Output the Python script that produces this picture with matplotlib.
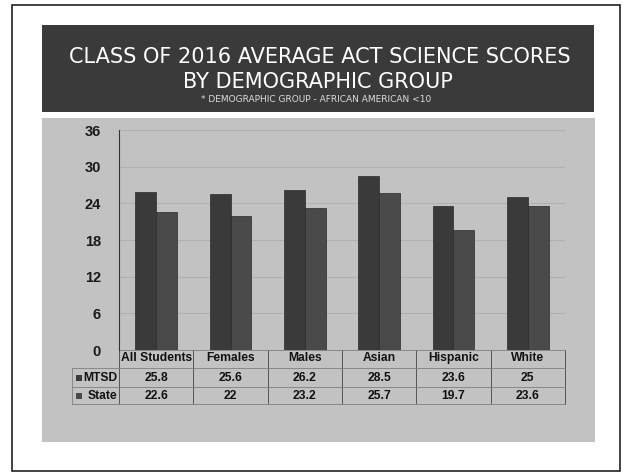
import matplotlib
matplotlib.use("Agg")
import matplotlib.pyplot as plt
from matplotlib.patches import Rectangle
from matplotlib.lines import Line2D
import matplotlib.transforms as mtransforms
import numpy as np

categories = ["All Students", "Females", "Males", "Asian", "Hispanic", "White"]
mtsd = [25.8, 25.6, 26.2, 28.5, 23.6, 25]
state = [22.6, 22, 23.2, 25.7, 19.7, 23.6]
mtsd_labels = ["25.8", "25.6", "26.2", "28.5", "23.6", "25"]
state_labels = ["22.6", "22", "23.2", "25.7", "19.7", "23.6"]
series_names = ["MTSD", "State"]
yticks = [0, 6, 12, 18, 24, 30, 36]
title1 = "CLASS OF 2016 AVERAGE ACT SCIENCE SCORES"
title2 = "BY DEMOGRAPHIC GROUP"
subtitle = "* DEMOGRAPHIC GROUP - AFRICAN AMERICAN <10"

FONT = ["Liberation Sans", "DejaVu Sans"]

W, H = 623, 474
fig = plt.figure(figsize=(W / 100, H / 100), dpi=100)
fig.patch.set_facecolor("white")

def fx(px):
    return px / W

def fy(py):
    return 1 - py / H

# outer border
fig.patches.append(Rectangle((fx(12), fy(471)), fx(620) - fx(12), fy(5) - fy(471),
                             transform=fig.transFigure, fill=False, edgecolor="#222222",
                             lw=1.2, zorder=-5))
# chart background panel
fig.patches.append(Rectangle((fx(42), fy(442)), fx(595) - fx(42), fy(118) - fy(442),
                             transform=fig.transFigure, facecolor="#c2c2c2", edgecolor="none",
                             zorder=-5))
# title box
fig.patches.append(Rectangle((fx(42), fy(112)), fx(594) - fx(42), fy(25) - fy(112),
                             transform=fig.transFigure, facecolor="#3a3a3a", edgecolor="none",
                             zorder=-5))
fig.text(fx(320), fy(57), title1, color="white", fontsize=15, ha="center", va="center",
         family="DejaVu Sans")
fig.text(fx(318), fy(82), title2, color="white", fontsize=15, ha="center", va="center",
         family="DejaVu Sans")
fig.text(fx(316), fy(99), subtitle, color="#dddddd", fontsize=6.5, ha="center", va="center",
         family="DejaVu Sans")

ax = fig.add_axes([fx(119), fy(350), fx(565) - fx(119), fy(130) - fy(350)])
ax.set_zorder(2)
ax.set_facecolor("none")
x = np.arange(len(categories))
bw = 0.28
ax.bar(x - bw / 2, mtsd, width=bw, color="#3a3a3a", edgecolor="#2a2a2a", lw=0.5, zorder=3)
ax.bar(x + bw / 2, state, width=bw, color="#4a4a4a", edgecolor="#2a2a2a", lw=0.5, zorder=3)
ax.set_xlim(-0.5, len(categories) - 0.5)
ax.set_ylim(0, 36)
ax.set_yticks(yticks)
ax.set_yticklabels([str(t) for t in yticks], fontsize=10.5, color="#1a1a1a",
                   family=FONT, fontweight="bold")
ax.tick_params(axis="y", length=0, pad=13)
ax.set_xticks([])
ax.grid(axis="y", color="#b0b0b0", lw=0.8, zorder=0)
for s in ["top", "right", "bottom"]:
    ax.spines[s].set_visible(False)
ax.spines["left"].set_color("#333333")
ax.spines["left"].set_linewidth(0.8)

# data table below axes
trans = mtransforms.blended_transform_factory(ax.transData, ax.transAxes)
def ay(py):
    return (350 - py) / 220.0

tkw = dict(ha="center", va="center", fontsize=8.7, color="#111111", clip_on=False,
           family=FONT, fontweight="bold")
row_y = [ay(358), ay(378), ay(396)]
bounds = [ay(350), ay(368), ay(387), ay(404)]
for i, c in enumerate(categories):
    ax.text(i, row_y[0], c, transform=trans, **tkw)
    ax.text(i, row_y[1], mtsd_labels[i], transform=trans, **tkw)
    ax.text(i, row_y[2], state_labels[i], transform=trans, **tkw)
# vertical separators
for b in np.arange(-0.5, len(categories) + 0.5, 1.0):
    ax.add_line(Line2D([b, b], [bounds[0], bounds[3]], transform=trans, color="#555555",
                       lw=0.7, clip_on=False))
# horizontal lines
axt = mtransforms.blended_transform_factory(fig.transFigure, ax.transAxes)
for k, bnd in enumerate(bounds):
    x0 = fx(119) if k == 0 else fx(72)
    ax.add_line(Line2D([x0, fx(565)], [bnd, bnd], transform=axt, color="#808080",
                       lw=0.6, clip_on=False))
ax.add_line(Line2D([fx(72), fx(72)], [bounds[1], bounds[3]], transform=axt, color="#808080",
                   lw=0.6, clip_on=False))
# row headers with legend keys
key_colors = ["#3a3a3a", "#4a4a4a"]
for j, name in enumerate(series_names):
    yy = row_y[j + 1]
    ax.add_patch(Rectangle((fx(76), yy - 0.014), fx(6), 0.028, transform=axt,
                           facecolor=key_colors[j], edgecolor="none", clip_on=False))
    ax.text(fx(117), yy, name, transform=axt, ha="right", va="center", fontsize=8.7,
            color="#111111", clip_on=False, family=FONT, fontweight="bold")

fig.savefig("out.png", dpi=100, facecolor=fig.get_facecolor())
